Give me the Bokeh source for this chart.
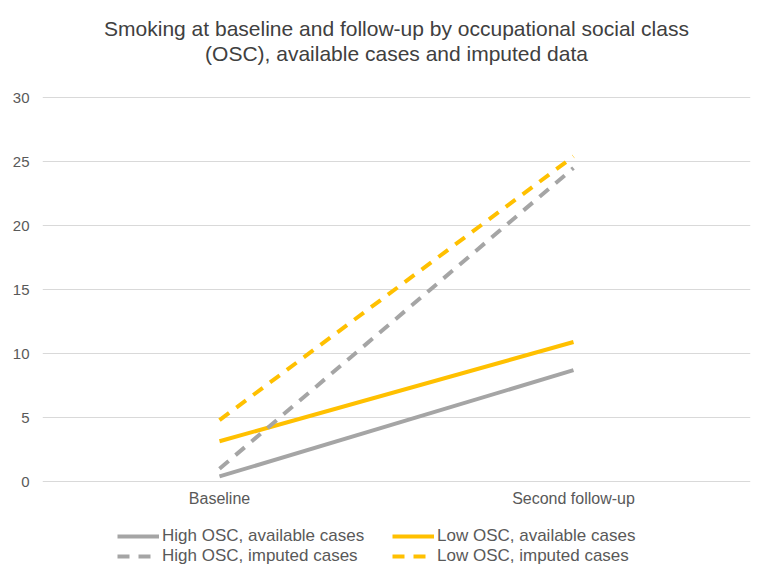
from bokeh.plotting import figure
from bokeh.models import Legend, LegendItem, Title, FixedTicker, Range1d
from bokeh.core.properties import value
from bokeh.embed import file_html
from bokeh.resources import INLINE

categories = ["Baseline", "Second follow-up"]
high_available = [0.4, 8.7]
low_available = [3.15, 10.9]
high_imputed = [1.0, 24.5]
low_imputed = [4.8, 25.4]
y_ticks = [0, 5, 10, 15, 20, 25, 30]

GREY = "#A5A5A5"
GOLD = "#FFC000"
FONT = "Liberation Sans"

# frame extends beyond 0..30 so the category labels and legend sit inside it
p = figure(x_range=categories, y_range=Range1d(-7.34, 32.58),
           frame_width=708, frame_height=511,
           output_backend="svg", toolbar_location=None,
           min_border_left=42, min_border_right=8, min_border_top=64, min_border_bottom=0)
p.title = None
p.outline_line_color = None

r1 = p.line(categories, high_available, line_color=GREY, line_width=4)
r2 = p.line(categories, low_available, line_color=GOLD, line_width=4)
r3 = p.line(categories, high_imputed, line_color=GREY, line_width=4, line_dash="12 9")
r4 = p.line(categories, low_imputed, line_color=GOLD, line_width=4, line_dash="12 9")

p.text(x=categories, y=[0] * len(categories), text=categories,
       text_font=value(FONT), text_font_size="16px", text_color="#595959",
       text_align="center", text_baseline="middle", y_offset=17)

p.yaxis.ticker = FixedTicker(ticks=y_ticks)
p.yaxis.axis_line_color = None
p.yaxis.major_tick_line_color = None
p.yaxis.minor_tick_line_color = None
p.yaxis.major_label_text_font = FONT
p.yaxis.major_label_text_font_size = "15px"
p.yaxis.major_label_text_color = "#595959"
p.yaxis.major_label_standoff = 7
p.xaxis.visible = False

p.xgrid.grid_line_color = None
p.ygrid.ticker = FixedTicker(ticks=y_ticks)
p.ygrid.grid_line_color = "#D9D9D9"
p.ygrid.grid_line_width = 1

t2 = Title(text="(OSC), available cases and imputed data", align="center",
           text_font=FONT, text_font_size="21px", text_color="#404040",
           text_font_style="normal", standoff=0)
t1 = Title(text="Smoking at baseline and follow-up by occupational social class", align="center",
           text_font=FONT, text_font_size="21px", text_color="#404040",
           text_font_style="normal", standoff=0)
p.add_layout(t2, "above")
p.add_layout(t1, "above")

legend = Legend(items=[
    LegendItem(label="High OSC, available cases", renderers=[r1]),
    LegendItem(label="Low OSC, available cases", renderers=[r2]),
    LegendItem(label="High OSC, imputed cases", renderers=[r3]),
    LegendItem(label="Low OSC, imputed cases", renderers=[r4]),
], ncols=2, orientation="horizontal", location=(75, 9))
legend.label_text_font = FONT
legend.label_text_font_size = "17px"
legend.label_text_color = "#595959"
legend.border_line_color = None
legend.background_fill_alpha = 0
legend.glyph_width = 42
legend.glyph_height = 14
legend.label_standoff = 3
legend.spacing = 0
legend.padding = 4
legend.margin = 0
legend.label_height = 14
legend.label_width = 230
p.add_layout(legend)

open("out.html", "w").write(file_html(p, INLINE))
